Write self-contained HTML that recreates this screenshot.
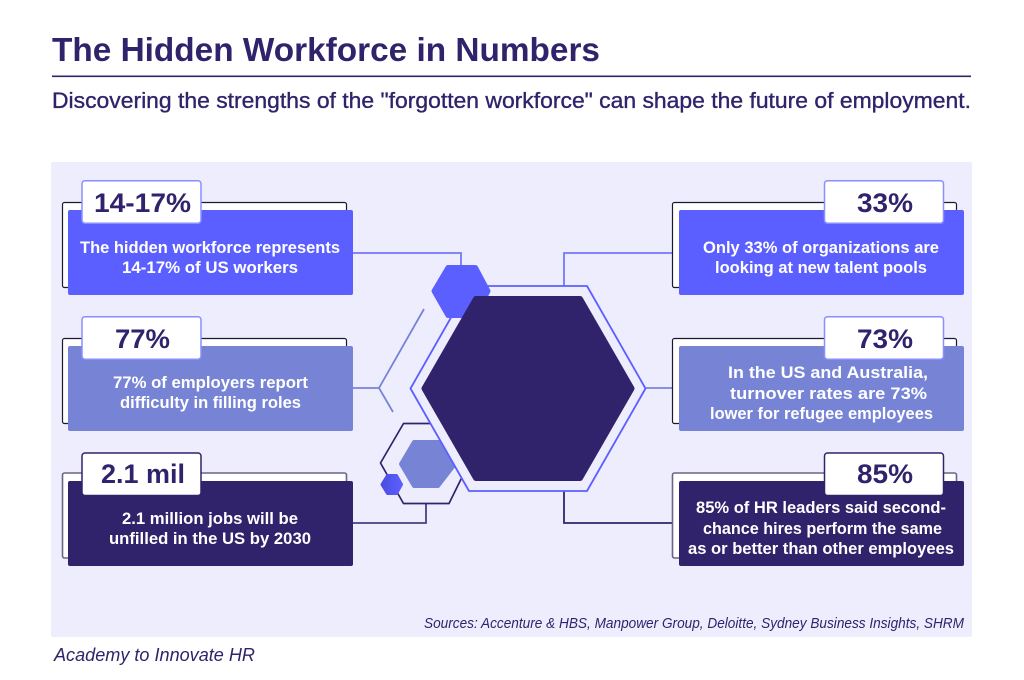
<!DOCTYPE html>
<html lang="en">
<head>
<meta charset="utf-8">
<title>The Hidden Workforce in Numbers</title>
<style>
html,body{margin:0;padding:0;background:#fff;width:1024px;height:680px;overflow:hidden}
svg{display:block}
text{font-family:"Liberation Sans",sans-serif}
.num{font-size:27px;font-weight:700;fill:#30236B;text-anchor:start}
.body{font-size:16.5px;font-weight:700;fill:#fff;text-anchor:start}
.card{stroke:none}
.back{fill:#fff;stroke:#1a1a2a;stroke-width:1.2}
.back-dark{fill:#fff;stroke:#6b6580;stroke-width:1.6}
.tag{fill:#fff;stroke:#8A8FFF;stroke-width:1.5}
.tag-dark{fill:#fff;stroke:#30236B;stroke-width:1.5}
.wire{fill:none;stroke-width:1.8}
</style>
</head>
<body>
<svg width="1024" height="680" viewBox="0 0 1024 680" xmlns="http://www.w3.org/2000/svg">
<defs>
<linearGradient id="smallHexFill" x1="0" x2="1" y1="0" y2="0">
<stop offset="0" stop-color="#4A4EE0"/>
<stop offset="1" stop-color="#5C5FFF"/>
</linearGradient>
</defs>
<rect width="1024" height="680" fill="#fff"/>

<text x="52" y="61" font-size="33.5" font-weight="700" fill="#30236B" textLength="548" lengthAdjust="spacingAndGlyphs">The Hidden Workforce in Numbers</text>
<rect x="52" y="75.5" width="919" height="1.6" fill="#30236B"/>
<text x="52" y="108" font-size="22" fill="#30236B" stroke="#30236B" stroke-width="0.35" textLength="919" lengthAdjust="spacingAndGlyphs">Discovering the strengths of the "forgotten workforce" can shape the future of employment.</text>

<rect x="51" y="162" width="921" height="475" rx="2" fill="#EEEDFE"/>

<g>
<path class="wire" d="M353 253H461V266" stroke="#7478FA"/>
<path class="wire" d="M564 287V253H679" stroke="#7478FA"/>
<path class="wire" d="M353 388H379M424 309L379 388L393 412" stroke="#7784D6"/>
<path class="wire" d="M646 388H679" stroke="#7784D6"/>
<path class="wire" d="M426 504V523H353" stroke="#4A3F82"/>
<path class="wire" d="M564 491V523H679" stroke="#30236B"/>
</g>

<g>
<polygon points="380.5,463 403.5,423.5 449,423.5 469,463 449,503.5 403.5,503.5" fill="none" stroke="#30236B" stroke-width="1.7" stroke-linejoin="round"/>
<polygon points="401,464 414,442 451,442 455,464 438,486 414,486" fill="#7784D6" stroke="#7784D6" stroke-width="4" stroke-linejoin="round"/>
<polygon points="382,484.5 387.5,475.5 396.5,475.5 401.5,484.5 396.5,493.5 387.5,493.5" fill="url(#smallHexFill)" stroke="url(#smallHexFill)" stroke-width="3" stroke-linejoin="round"/>
<polygon points="410.5,388.5 469,286 587,286 645.5,388.5 587,491 469,491" fill="#EEEDFE" stroke="#5C5FFF" stroke-width="1.8" stroke-linejoin="round"/>
<polygon points="434,291 448,267.5 475.5,267.5 488,291 475.5,315.5 448,315.5" fill="#5C5FFF" stroke="#5C5FFF" stroke-width="5" stroke-linejoin="round"/>
<polygon points="424.5,388.5 476,299 580,299 631.5,388.5 580,478 476,478" fill="#30236B" stroke="#30236B" stroke-width="6" stroke-linejoin="round"/>
</g>

<g>
<rect class="back" x="62.5" y="202.5" width="284" height="85" rx="2"/>
<rect class="card" x="68" y="210" width="285" height="85" rx="2" fill="#5C5FFF"/>
<rect class="tag" x="82" y="180.7" width="119" height="42.5" rx="3"/>
<text class="num" x="94" y="212" textLength="97" lengthAdjust="spacingAndGlyphs">14-17%</text>
<text class="body" x="80" y="253" textLength="260" lengthAdjust="spacingAndGlyphs">The hidden workforce represents</text>
<text class="body" x="122" y="273" textLength="176" lengthAdjust="spacingAndGlyphs">14-17% of US workers</text>
</g>

<g>
<rect class="back" x="62.5" y="338.5" width="284" height="85" rx="2"/>
<rect class="card" x="68" y="346" width="285" height="85" rx="2" fill="#7784D6"/>
<rect class="tag" x="82" y="316.7" width="119" height="42.5" rx="3"/>
<text class="num" x="115" y="348" textLength="55" lengthAdjust="spacingAndGlyphs">77%</text>
<text class="body" x="113" y="388" textLength="195" lengthAdjust="spacingAndGlyphs">77% of employers report</text>
<text class="body" x="120" y="408" textLength="181" lengthAdjust="spacingAndGlyphs">difficulty in filling roles</text>
</g>

<g>
<rect class="back-dark" x="62.5" y="473" width="284" height="85" rx="2"/>
<rect class="card" x="68" y="481" width="285" height="85" rx="2" fill="#30236B"/>
<rect class="tag-dark" x="82" y="453" width="119" height="42.5" rx="3"/>
<text class="num" x="101" y="483" textLength="84" lengthAdjust="spacingAndGlyphs">2.1 mil</text>
<text class="body" x="122" y="524" textLength="176" lengthAdjust="spacingAndGlyphs">2.1 million jobs will be</text>
<text class="body" x="109" y="544" textLength="202" lengthAdjust="spacingAndGlyphs">unfilled in the US by 2030</text>
</g>

<g>
<rect class="back" x="672.5" y="202.5" width="284" height="85" rx="2"/>
<rect class="card" x="679" y="210" width="285" height="85" rx="2" fill="#5C5FFF"/>
<rect class="tag" x="824.5" y="180.7" width="119" height="42.5" rx="3"/>
<text class="num" x="857" y="212" textLength="56" lengthAdjust="spacingAndGlyphs">33%</text>
<text class="body" x="703" y="253" textLength="236" lengthAdjust="spacingAndGlyphs">Only 33% of organizations are</text>
<text class="body" x="715" y="273" textLength="212" lengthAdjust="spacingAndGlyphs">looking at new talent pools</text>
</g>

<g>
<rect class="back" x="672.5" y="338.5" width="284" height="85" rx="2"/>
<rect class="card" x="679" y="346" width="285" height="85" rx="2" fill="#7784D6"/>
<rect class="tag" x="824.5" y="316.7" width="119" height="42.5" rx="3"/>
<text class="num" x="857" y="348" textLength="56" lengthAdjust="spacingAndGlyphs">73%</text>
<text class="body" x="728" y="378" textLength="200" lengthAdjust="spacingAndGlyphs">In the US and Australia,</text>
<text class="body" x="730" y="399" textLength="197" lengthAdjust="spacingAndGlyphs">turnover rates are 73%</text>
<text class="body" x="710" y="419" textLength="223" lengthAdjust="spacingAndGlyphs">lower for refugee employees</text>
</g>

<g>
<rect class="back-dark" x="672.5" y="473" width="284" height="85" rx="2"/>
<rect class="card" x="679" y="481" width="285" height="85" rx="2" fill="#30236B"/>
<rect class="tag-dark" x="824.5" y="453" width="119" height="42.5" rx="3"/>
<text class="num" x="857" y="483" textLength="56" lengthAdjust="spacingAndGlyphs">85%</text>
<text class="body" x="696" y="513" textLength="250" lengthAdjust="spacingAndGlyphs">85% of HR leaders said second-</text>
<text class="body" x="703" y="534" textLength="239" lengthAdjust="spacingAndGlyphs">chance hires perform the same</text>
<text class="body" x="688" y="554" textLength="266" lengthAdjust="spacingAndGlyphs">as or better than other employees</text>
</g>

<text x="424" y="628" font-size="14.5" font-style="italic" fill="#30236B" textLength="540" lengthAdjust="spacingAndGlyphs">Sources: Accenture &amp; HBS, Manpower Group, Deloitte, Sydney Business Insights, SHRM</text>
<text x="54" y="661" font-size="18.5" font-style="italic" fill="#30236B" textLength="201" lengthAdjust="spacingAndGlyphs">Academy to Innovate HR</text>
</svg>
</body>
</html>
